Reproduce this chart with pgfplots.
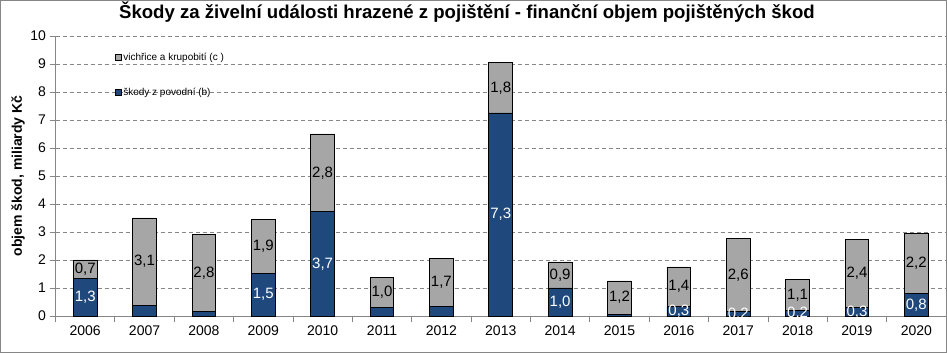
\documentclass[border=0pt]{standalone}
\usepackage{pgfplots}
\usepackage{pgfplotstable}
\pgfplotsset{compat=1.18}
\usepackage{fontspec}
\setmainfont{Liberation Sans}
\definecolor{povoden}{RGB}{31,73,125}
\definecolor{vichr}{RGB}{166,166,166}
\definecolor{axgray}{RGB}{134,134,134}

\pgfplotstableread{
x year blue grey bl gl
0 2006 1.33 0.67 1,3 0,7
1 2007 0.38 3.12 {} 3,1
2 2008 0.15 2.77 {} 2,8
3 2009 1.52 1.92 1,5 1,9
4 2010 3.73 2.77 3,7 2,8
5 2011 0.32 1.04 {} 1,0
6 2012 0.35 1.72 {} 1,7
7 2013 7.25 1.80 7,3 1,8
8 2014 1.00 0.93 1,0 0,9
9 2015 0.07 1.18 {} 1,2
10 2016 0.34 1.41 0,3 1,4
11 2017 0.15 2.62 0,2 2,6
12 2018 0.19 1.13 0,2 1,1
13 2019 0.29 2.44 0,3 2,4
14 2020 0.79 2.16 0,8 2,2
}\datatable

\pgfplotsset{
  geom/.style={at={(55.5pt,37pt)}, anchor=south west,
    scale only axis, width=890.5pt, height=280pt,
    xmin=-0.5, xmax=14.5, ymin=0, ymax=10},
}

\begin{document}
\begin{tikzpicture}
\useasboundingbox (0,0) rectangle (947pt,353pt);
\draw[axgray, line width=1pt] (0.5pt,0.5pt) rectangle (946.5pt,352.5pt);
\begin{axis}[
  geom,
  ybar stacked, bar width=0.4,
  xtick={0,...,14}, xticklabels from table={\datatable}{year},
  minor xtick={-0.5,0.5,...,14.5},
  ytick={0,...,10},
  axis x line*=bottom, axis y line*=left,
  axis line style={axgray, line width=0.8pt, -},
  major x tick style={draw=none},
  minor x tick style={draw=axgray, line width=0.8pt},
  y tick style={draw=axgray, line width=0.8pt},
  major tick length=6pt, minor tick length=6pt,
  tick align=outside,
  ymajorgrids,
  major grid style={axgray, dash pattern=on 4pt off 3pt, line width=0.8pt},
  tick label style={font=\fontsize{14}{16}\selectfont},
  /pgf/number format/assume math mode=true,
  title={Škody za živelní události hrazené z pojištění - finanční objem pojištěných škod},
  title style={font=\bfseries\fontsize{18.6}{20}\selectfont, at={(0.462,1)}, anchor=center, yshift=18pt},
  ylabel={objem škod, miliardy Kč},
  ylabel style={font=\bfseries\fontsize{14}{16}\selectfont, at={(axis description cs:-0.042,0.5)}, anchor=center},
  reverse legend,
  legend style={at={(0.063,0.955)}, anchor=north west, draw=none, fill=none,
    font=\fontsize{10}{12}\selectfont, row sep=22pt},
  legend cell align=left,
  legend image code/.code={\draw[#1, draw=black, line width=0.5pt] (0pt,-3pt) rectangle (6pt,3pt);},
  clip=false,
]
\addplot[fill=povoden, draw=black, line width=0.9pt]
  table[x=x, y=blue] {\datatable};
\addlegendentry{škody z povodní (b)}
\addplot[fill=vichr, draw=black, line width=0.9pt]
  table[x=x, y=grey] {\datatable};
\addlegendentry{vichřice a krupobití (c )}
\end{axis}
\begin{axis}[
  geom, hide axis, clip=false,
  nodes near coords, point meta=explicit symbolic,
  every node near coord/.append style={anchor=center, inner sep=0pt, font=\fontsize{15}{17}\selectfont},
]
\addplot[only marks, mark=none, every node near coord/.append style={text=white}]
  table[x=x, y expr=\thisrow{blue}/2, meta=bl] {\datatable};
\addplot[only marks, mark=none, every node near coord/.append style={text=black}]
  table[x=x, y expr=\thisrow{blue}+\thisrow{grey}/2, meta=gl] {\datatable};
\end{axis}
\end{tikzpicture}
\end{document}
